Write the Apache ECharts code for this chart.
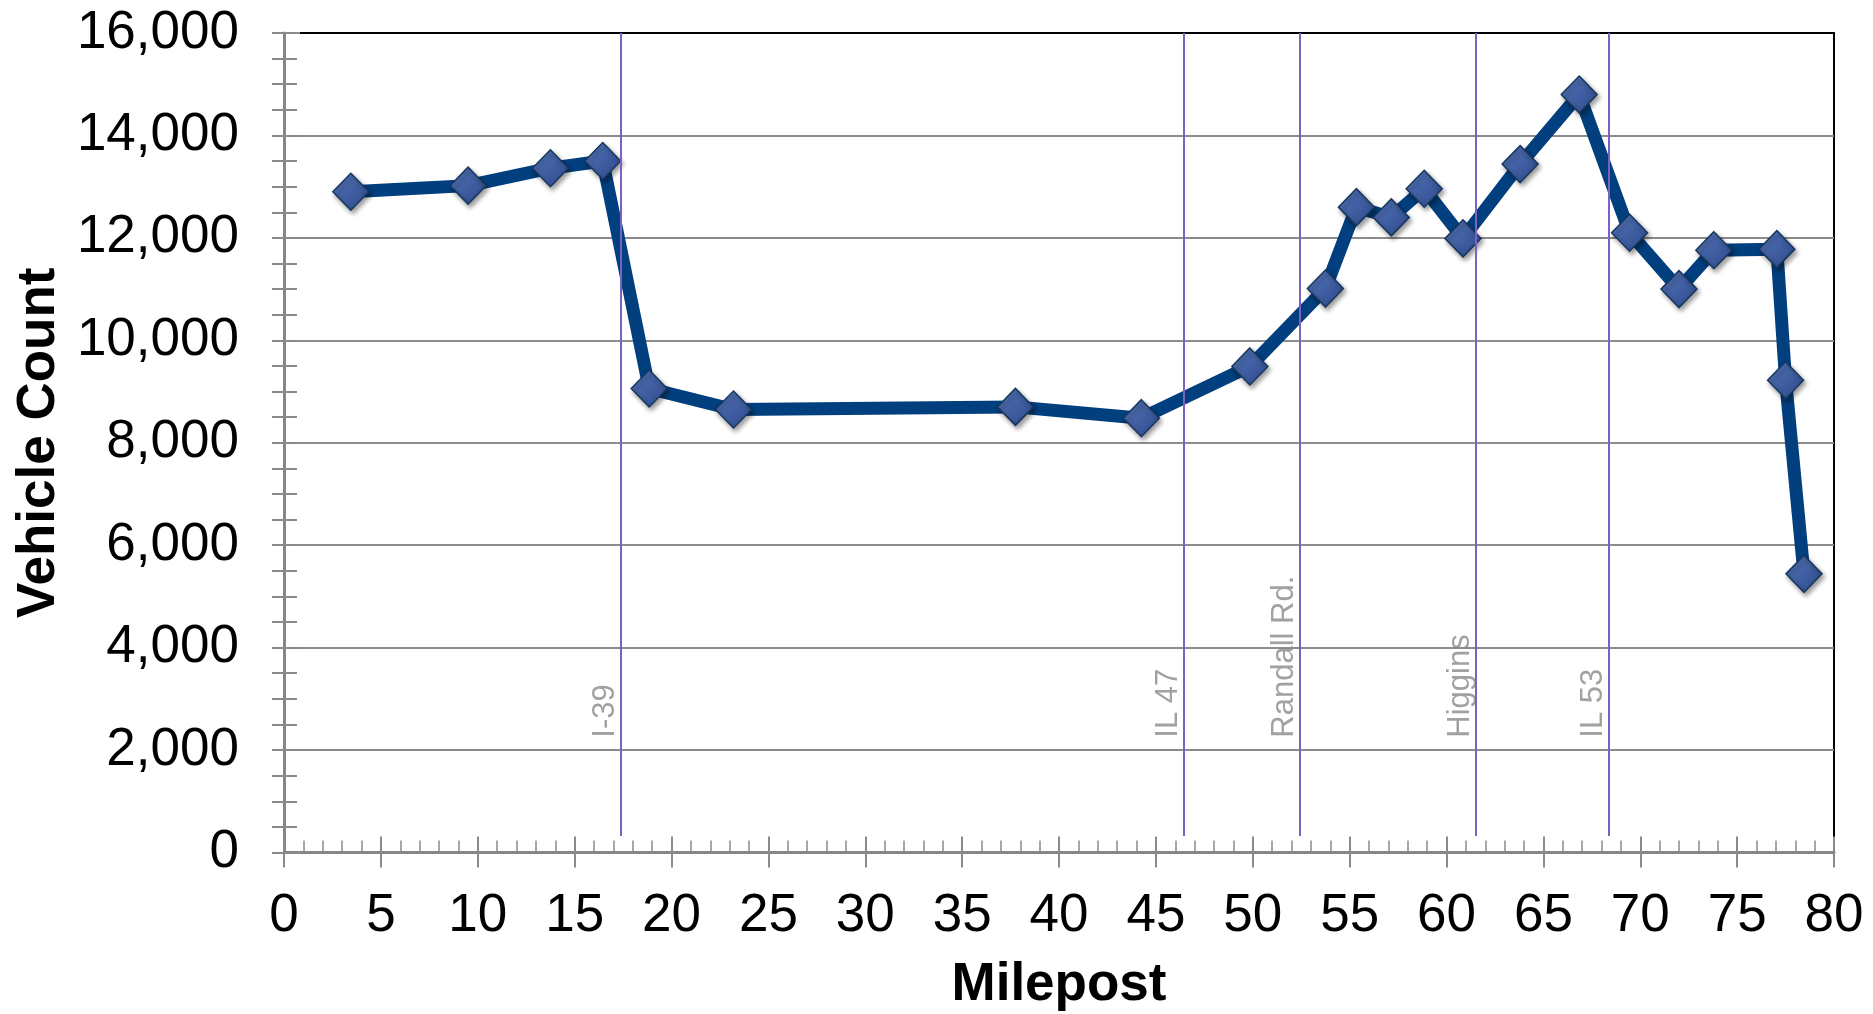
<!DOCTYPE html>
<html><head><meta charset="utf-8">
<script src="https://cdn.jsdelivr.net/npm/echarts@6/dist/echarts.min.js"></script>
<style>html,body{margin:0;padding:0;background:#fff}#c{width:1873px;height:1014px}</style>
</head><body><div id="c"></div>
<script>
// Data
const mileposts = [3.45, 9.5, 13.75, 16.45, 18.85, 23.2, 37.75, 44.25, 49.85, 53.75, 55.35, 57.15, 58.85, 60.85, 63.8, 66.85, 69.45, 72.0, 73.8, 77.05, 77.5, 78.45];
const vehicleCounts = [12900, 13020, 13360, 13500, 9060, 8650, 8700, 8480, 9490, 11010, 12600, 12400, 12960, 11990, 13440, 14800, 12100, 11000, 11760, 11780, 9220, 5440];
const roadNames = ['I-39', 'IL 47', 'Randall Rd.', 'Higgins', 'IL 53'];
const roadMileposts = [17.37, 46.45, 52.42, 61.5, 68.38];

const FONT = '"Liberation Sans", Arial, sans-serif';
const Y_MAX = 16000;
const LABEL_BASE = 2240;
const LINE_BOTTOM = 320;

const chart = echarts.init(document.getElementById('c'), null, {renderer: 'canvas'});
const linePoints = mileposts.map((m, i) => [m, vehicleCounts[i]]);
const tickColor = '#8a8a8a';

const option = {
  animation: false,
  grid: {left: 284, right: 39, top: 33, bottom: 161.5, show: true, borderColor: '#000', borderWidth: 2, backgroundColor: 'transparent', outerBoundsMode: 'none'},
  xAxis: [
    {type: 'value', min: 0, max: 80, interval: 5, position: 'bottom',
     name: 'Milepost', nameLocation: 'middle', nameGap: 106,
     nameTextStyle: {fontFamily: FONT, fontSize: 53, fontWeight: 'bold', color: '#000'},
     axisLine: {show: true, onZero: false, lineStyle: {color: '#868686', width: 3}},
     axisTick: {show: true, inside: false, length: 15, lineStyle: {color: tickColor, width: 2}},
     minorTick: {show: false},
     axisLabel: {margin: 37, fontFamily: FONT, fontSize: 53, color: '#000'},
     splitLine: {show: false}},
    {type: 'value', min: 0, max: 80, interval: 5, position: 'bottom',
     axisLine: {show: false},
     axisTick: {show: true, inside: true, length: 16, lineStyle: {color: tickColor, width: 2}},
     minorTick: {show: true, splitNumber: 5, length: 12, lineStyle: {color: tickColor, width: 1.5}},
     axisLabel: {show: false}, splitLine: {show: false}}
  ],
  yAxis: [
    {type: 'value', min: 0, max: Y_MAX, interval: 2000, position: 'left',
     name: 'Vehicle Count', nameLocation: 'middle', nameGap: 217,
     nameTextStyle: {fontFamily: FONT, fontSize: 53, fontWeight: 'bold', color: '#000'},
     axisLine: {show: true, onZero: false, lineStyle: {color: '#868686', width: 3}},
     axisTick: {show: true, inside: false, length: 12, lineStyle: {color: tickColor, width: 2}},
     minorTick: {show: true, splitNumber: 4, length: 12, lineStyle: {color: tickColor, width: 2}},
     axisLabel: {margin: 45, fontFamily: FONT, fontSize: 53, color: '#000', formatter: v => v.toLocaleString('en-US')},
     splitLine: {show: true, showMinLine: false, showMaxLine: false, lineStyle: {color: '#8c8c8c', width: 2}}},
    {type: 'value', min: 0, max: Y_MAX, interval: 2000, position: 'left',
     axisLine: {show: false},
     axisTick: {show: true, inside: true, length: 16, lineStyle: {color: tickColor, width: 2}},
     minorTick: {show: true, splitNumber: 4, length: 13, lineStyle: {color: tickColor, width: 2}},
     axisLabel: {show: false}, splitLine: {show: false}}
  ],
  series: [
    {type: 'scatter', name: 'roads', xAxisIndex: 0, yAxisIndex: 0, z: 1, silent: true,
     symbolSize: 0.1,
     data: roadMileposts.map((m, i) => ({value: [m, LABEL_BASE], name: roadNames[i]})),
     label: {show: true, formatter: '{b}', position: [0, 0], align: 'left', verticalAlign: 'bottom', rotate: 90,
             offset: [0, 0], fontFamily: FONT, fontSize: 31, color: '#8a8a8a'},
     markLine: {silent: true, symbol: ['none', 'none'], label: {show: false},
                lineStyle: {color: '#7b61c2', width: 2, type: 'solid'},
                data: roadMileposts.map(m => [{coord: [m, LINE_BOTTOM]}, {coord: [m, Y_MAX]}])}
    },
    {type: 'line', name: 'Vehicle Count', xAxisIndex: 0, yAxisIndex: 0, z: 3,
     data: linePoints,
     symbol: 'diamond', symbolSize: [36, 37],
     lineStyle: {color: '#023f7e', width: 13},
     itemStyle: {
       color: {type: 'linear', x: 0, y: 0, x2: 1, y2: 1,
               colorStops: [{offset: 0, color: '#5878bd'}, {offset: 1, color: '#2a4788'}]},
       borderColor: '#17375e', borderWidth: 1.5,
       shadowBlur: 5, shadowColor: 'rgba(0,0,0,0.4)', shadowOffsetX: 2, shadowOffsetY: 3
     }
    }
  ]
};
chart.setOption(option);
</script>
</body></html>
